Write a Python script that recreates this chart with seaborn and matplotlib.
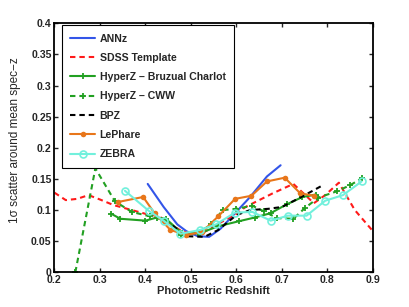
import matplotlib
import matplotlib.pyplot as plt
import seaborn as sns

matplotlib.use("Agg")

# 各手法のデータ (写真から読み取り)
annz_x = [0.405, 0.44, 0.47, 0.49, 0.515, 0.54, 0.565, 0.597, 0.63, 0.667, 0.697]
annz_y = [0.142, 0.105, 0.077, 0.066, 0.058, 0.057, 0.070, 0.095, 0.121, 0.154, 0.172]

sdss_x = [0.2, 0.225, 0.25, 0.275, 0.3, 0.33, 0.36, 0.4, 0.43, 0.46, 0.48, 0.5, 0.53,
          0.56, 0.6, 0.62, 0.68, 0.725, 0.75, 0.77, 0.795, 0.825, 0.86, 0.9]
sdss_y = [0.128, 0.116, 0.118, 0.124, 0.117, 0.108, 0.102, 0.094, 0.090, 0.075, 0.066, 0.062, 0.065,
          0.078, 0.094, 0.105, 0.127, 0.142, 0.125, 0.111, 0.124, 0.144, 0.100, 0.066]

bc_x = [0.325, 0.345, 0.40, 0.425, 0.445, 0.48, 0.52, 0.56, 0.605, 0.64, 0.675, 0.71, 0.745, 0.775]
bc_y = [0.094, 0.086, 0.083, 0.088, 0.086, 0.063, 0.063, 0.074, 0.082, 0.088, 0.095, 0.109, 0.121, 0.125]

cww_x = [0.246, 0.29, 0.333, 0.37, 0.41, 0.445, 0.478, 0.515, 0.545, 0.57, 0.6, 0.635,
         0.66, 0.69, 0.725, 0.75, 0.78, 0.82, 0.85, 0.875]
cww_y = [0.0, 0.167, 0.114, 0.097, 0.090, 0.083, 0.060, 0.063, 0.077, 0.100, 0.102, 0.107,
         0.098, 0.087, 0.086, 0.103, 0.120, 0.130, 0.140, 0.151]

bpz_x = [0.46, 0.49, 0.53, 0.56, 0.6, 0.63, 0.67, 0.70, 0.74, 0.785]
bpz_y = [0.075, 0.058, 0.057, 0.068, 0.092, 0.100, 0.102, 0.105, 0.120, 0.138]

lephare_x = [0.34, 0.395, 0.42, 0.455, 0.49, 0.525, 0.56, 0.597, 0.633, 0.667, 0.706, 0.74, 0.77]
lephare_y = [0.113, 0.121, 0.095, 0.068, 0.060, 0.065, 0.090, 0.118, 0.123, 0.146, 0.152, 0.127, 0.123]

zebra_x = [0.355, 0.407, 0.44, 0.477, 0.52, 0.555, 0.597, 0.635, 0.675, 0.713, 0.754, 0.795, 0.834, 0.875]
zebra_y = [0.131, 0.099, 0.083, 0.062, 0.068, 0.077, 0.096, 0.097, 0.083, 0.091, 0.091, 0.115, 0.124, 0.146]

x_ticks = [0.2, 0.3, 0.4, 0.5, 0.6, 0.7, 0.8, 0.9]
x_labels = ["0.2", "0.3", "0.4", "0.5", "0.6", "0.7", "0.8", "0.9"]
y_ticks = [0, 0.05, 0.1, 0.15, 0.2, 0.25, 0.3, 0.35, 0.4]
y_labels = ["0", "0.05", "0.1", "0.15", "0.2", "0.25", "0.3", "0.35", "0.4"]

sns.set_style("ticks")
plt.rcParams["font.family"] = ["Liberation Sans", "DejaVu Sans"]

fig = plt.figure(figsize=(4.09, 3.07), dpi=100)
ax = fig.add_axes([0.133, 0.113, 0.779, 0.811])

DASH = (2.6, 1.9)
GREEN = "#22a022"
CYAN = "#72f0dc"

# 系列ごとにプロット
sns.lineplot(x=annz_x, y=annz_y, ax=ax, color="#3355e8", linewidth=1.5,
             linestyle="-", label="ANNz")
sns.lineplot(x=sdss_x, y=sdss_y, ax=ax, color="#ff1a1a", linewidth=1.5,
             linestyle=(0, DASH), label="SDSS Template")
sns.lineplot(x=bc_x, y=bc_y, ax=ax, color=GREEN, linewidth=1.5, linestyle="-", marker="+",
             markersize=5, markeredgewidth=1.3, markeredgecolor=GREEN,
             label="HyperZ \u2013 Bruzual Charlot")
sns.lineplot(x=cww_x, y=cww_y, ax=ax, color=GREEN, linewidth=1.5, linestyle=(0, DASH),
             marker="+", markersize=5, markeredgewidth=1.3, markeredgecolor=GREEN,
             label="HyperZ \u2013 CWW")
sns.lineplot(x=bpz_x, y=bpz_y, ax=ax, color="black", linewidth=1.5,
             linestyle=(0, DASH), label="BPZ")
sns.lineplot(x=lephare_x, y=lephare_y, ax=ax, color="#e8761a", linewidth=1.5, linestyle="-",
             marker="o", markersize=4, markeredgewidth=0, label="LePhare")
sns.lineplot(x=zebra_x, y=zebra_y, ax=ax, color=CYAN, linewidth=1.5, linestyle="-", marker="o",
             markersize=5, markerfacecolor="none", markeredgecolor=CYAN,
             markeredgewidth=1.2, label="ZEBRA")

ax.set_xlim(0.2, 0.9)
ax.set_ylim(0, 0.4)
ax.set_xticks(x_ticks)
ax.set_xticklabels(x_labels)
ax.set_yticks(y_ticks)
ax.set_yticklabels(y_labels)

ax.set_xlabel("Photometric Redshift", fontsize=8, fontweight="bold", labelpad=1)
ax.set_ylabel("1\u03c3 scatter around mean spec\u2212z", fontsize=8.5)
ax.yaxis.set_label_coords(-0.104, 0.53)

ax.tick_params(axis="both", direction="in", top=True, right=True, length=3,
               width=1, labelsize=7.6, pad=2)
for lbl in ax.get_xticklabels() + ax.get_yticklabels():
    lbl.set_fontweight("bold")
for sp in ax.spines.values():
    sp.set_visible(True)
    sp.set_linewidth(1.3)
    sp.set_color("black")

leg = ax.legend(loc="upper left", bbox_to_anchor=(0.024, 0.993), frameon=True, fancybox=False,
                framealpha=1, prop={"weight": "bold", "size": 7.6}, handlelength=2.3,
                handletextpad=0.45, labelspacing=0.88, borderpad=0.8, borderaxespad=0)
leg.get_frame().set_edgecolor("black")
leg.get_frame().set_linewidth(0.8)

fig.savefig("out.png", dpi=100)
plt.close(fig)
